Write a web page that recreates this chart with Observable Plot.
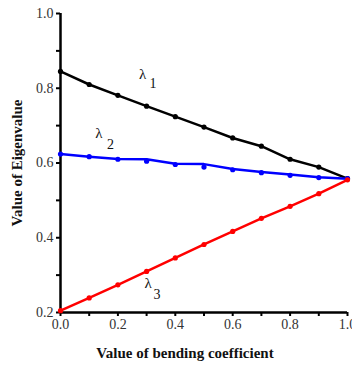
<!DOCTYPE html>
<html><head><meta charset="utf-8">
<script src="https://cdn.jsdelivr.net/npm/d3@7"></script>
<script src="https://cdn.jsdelivr.net/npm/@observablehq/plot@0.6"></script>
<style>
body{margin:0;background:#fff;}
svg{font-family:"Liberation Serif","DejaVu Serif",serif;}
</style></head><body>
<div id="chart"></div>
<script>
const bending = [0, 0.1, 0.2, 0.3, 0.4, 0.5, 0.6, 0.7, 0.8, 0.9, 1.0];
const lambda1 = [0.845, 0.810, 0.781, 0.752, 0.724, 0.696, 0.667, 0.645, 0.610, 0.589, 0.558];
const lambda2 = [0.624, 0.617, 0.610, 0.605, 0.596, 0.589, 0.582, 0.574, 0.567, 0.561, 0.558];
const lambda2Line = [0.624, 0.617, 0.611, 0.610, 0.598, 0.597, 0.584, 0.576, 0.569, 0.562, 0.558];
const lambda3 = [0.205, 0.239, 0.274, 0.310, 0.346, 0.382, 0.417, 0.452, 0.484, 0.518, 0.555];
const xTicks = [0, 0.1, 0.2, 0.3, 0.4, 0.5, 0.6, 0.7, 0.8, 0.9, 1.0];
const yTicks = [0.2, 0.3, 0.4, 0.5, 0.6, 0.7, 0.8, 0.9, 1.0];
const labels = [
  {name: "λ", sub: "1", x: 0.286, y: 0.837, sx: 0.322, sy: 0.814},
  {name: "λ", sub: "2", x: 0.134, y: 0.680, sx: 0.174, sy: 0.650},
  {name: "λ", sub: "3", x: 0.305, y: 0.279, sx: 0.336, sy: 0.248}
];
const series = [
  {vals: lambda1, line: lambda1, color: "#000000"},
  {vals: lambda2, line: lambda2Line, color: "#0000ff"},
  {vals: lambda3, line: lambda3, color: "#ff0000"}
];
const marks = [];
const fmt = d => (Math.round(d * 10) % 2 === 0) ? d.toFixed(1) : "";
marks.push(Plot.axisX(xTicks, {tickSize: 4, strokeWidth: 2, tickFormat: fmt, fontSize: 14, fill: "#333", tickPadding: 3, label: null}));
marks.push(Plot.axisY(yTicks, {tickSize: 4, strokeWidth: 2, tickFormat: fmt, fontSize: 14, fill: "#333", tickPadding: 3, label: null}));
marks.push(Plot.ruleY([0.2], {stroke: "#000", strokeWidth: 2.5}));
marks.push(Plot.ruleX([0], {stroke: "#000", strokeWidth: 2.5}));
for (const s of series) {
  const pts = bending.map((b, i) => ({x: b, y: s.vals[i]}));
  const ln = bending.map((b, i) => ({x: b, y: s.line[i]}));
  marks.push(Plot.line(ln, {x: "x", y: "y", stroke: s.color, strokeWidth: 2.5}));
  marks.push(Plot.dot(pts, {x: "x", y: "y", fill: s.color, r: 2.6}));
}
marks.push(Plot.text(labels, {x: "x", y: "y", text: "name", fontSize: 15, fill: "#111", textAnchor: "middle"}));
marks.push(Plot.text(labels, {x: "sx", y: "sy", text: "sub", fontSize: 14, fill: "#111", textAnchor: "middle"}));

const chart = Plot.plot({
  width: 352, height: 366,
  marginLeft: 60, marginRight: 5, marginTop: 13, marginBottom: 54,
  x: {domain: [0, 1]},
  y: {domain: [0.2, 1]},
  style: {fontFamily: "Liberation Serif, serif", background: "#fff", overflow: "visible"},
  marks
});
const svg = d3.select(chart);
svg.append("text").attr("x", 185).attr("y", 358).attr("text-anchor", "middle")
  .attr("font-weight", "bold").attr("font-size", 15).attr("fill", "#111")
  .text("Value of bending coefficient");
svg.append("text").attr("transform", "translate(22,163) rotate(-90)").attr("text-anchor", "middle")
  .attr("font-weight", "bold").attr("font-size", 15).attr("fill", "#111")
  .text("Value of Eigenvalue");
document.getElementById("chart").appendChild(chart);
</script>
</body></html>
